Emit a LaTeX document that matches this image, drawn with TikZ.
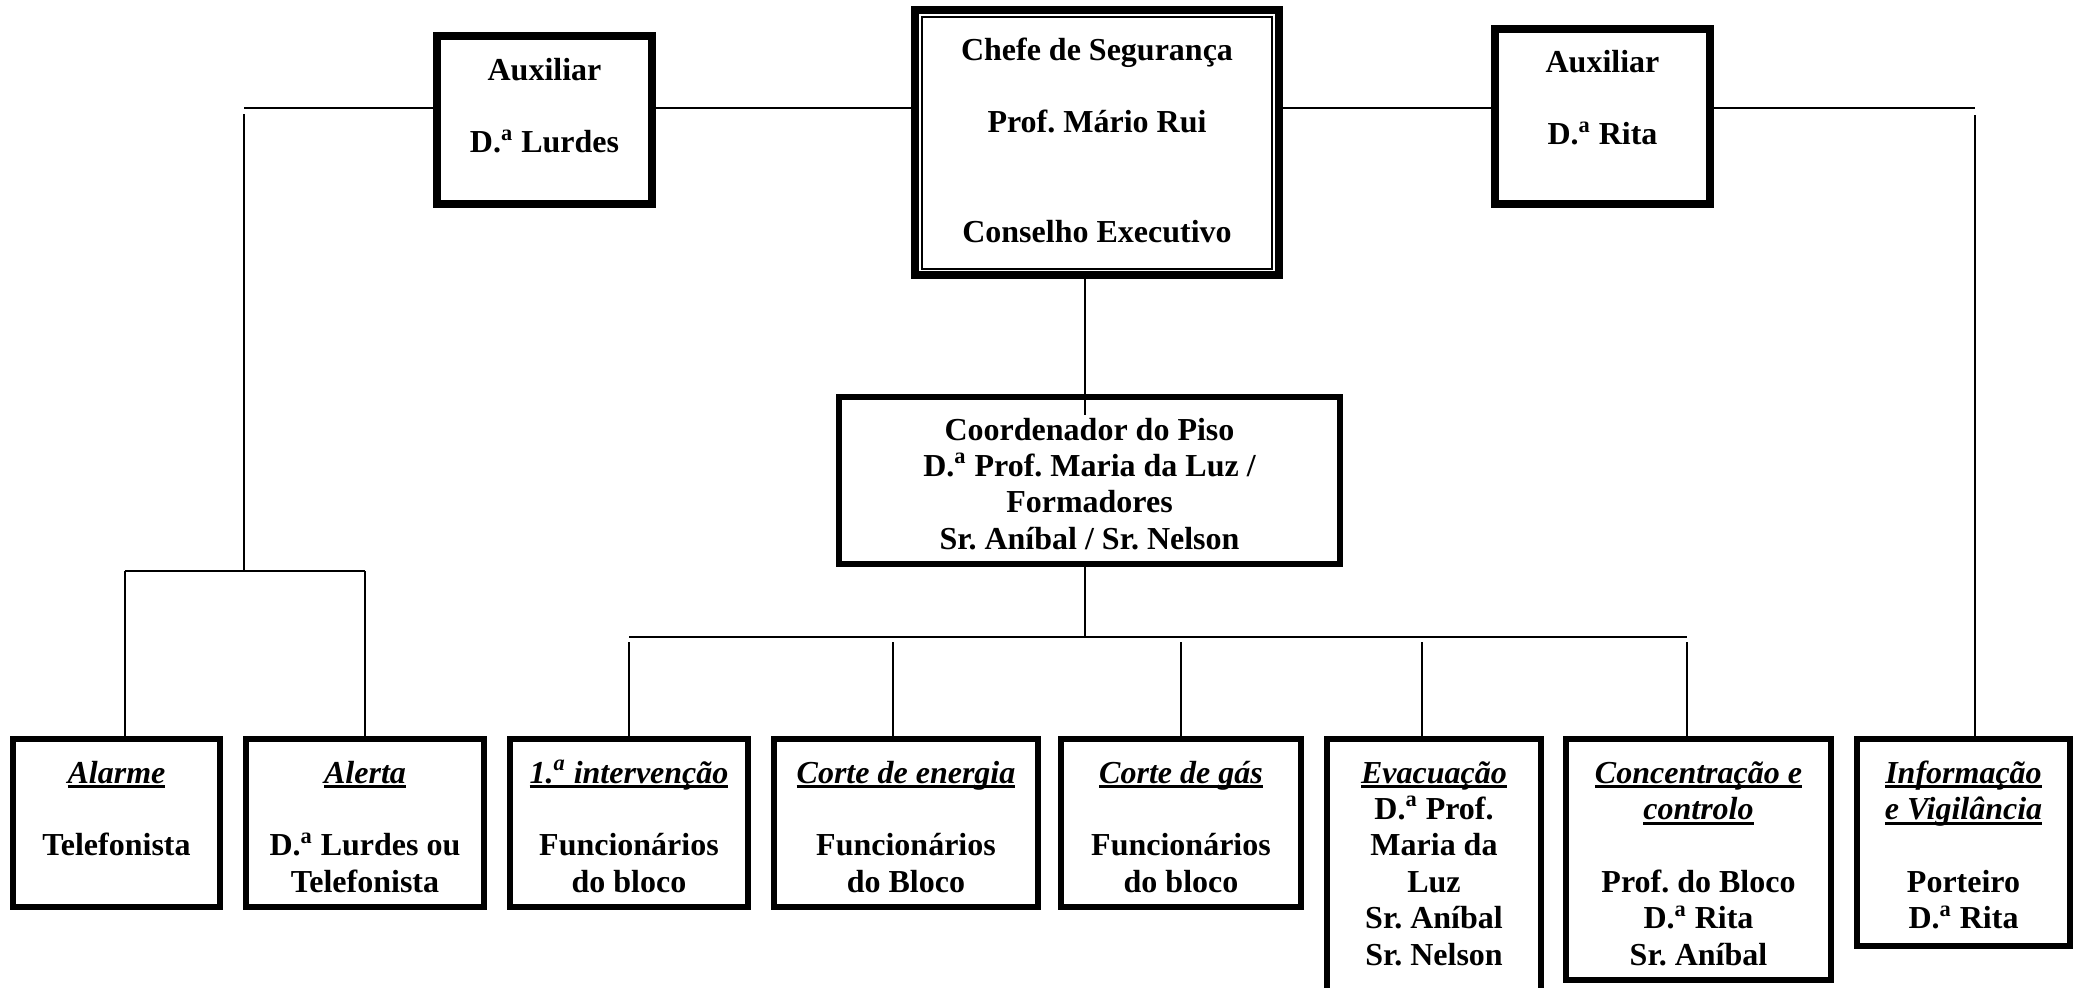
\documentclass[tikz,border=0pt]{standalone}
\usepackage{fontspec}
\setmainfont{Liberation Serif}
\usetikzlibrary{calc}

% underlined section titles
\newsavebox\ttlbox
\newcommand\ttl[1]{\sbox\ttlbox{#1}\rlap{\rule[-2.65pt]{\wd\ttlbox}{1.5pt}}\usebox\ttlbox}
\newcommand\ordA{\textsuperscript{a}}

\tikzset{
  bigbox/.style={draw, line width=4pt, inner sep=0pt},
  smallbox/.style={draw, line width=3pt, inner sep=0pt},
  % text blocks are placed by the baseline of their last line
  txt/.style={font=\fontsize{16pt}{18.2pt}\selectfont\bfseries\frenchspacing, align=center, inner sep=0pt, anchor=base},
  link/.style={line width=0.75pt},
  buslink/.style={line width=1pt}
}

\begin{document}
\begin{tikzpicture}[x=0.5pt,y=-0.5pt]
\useasboundingbox (0,0) rectangle (2078,987);

% top row
\node[bigbox, minimum width=107.5pt, minimum height=84pt] (aux1) at (544.5,120) {};
\node[txt] (aux1t) at (544.5,152.8) {Auxiliar\\[18.2pt]D.\ordA{} Lurdes};

\node[bigbox, minimum width=182pt, minimum height=132.5pt] (chefe) at (1097,142.5) {};
\draw[line width=1pt] ([shift={(11,10.5)}]chefe.north west) rectangle ([shift={(-11,-10.5)}]chefe.south east);
\node[txt] (chefet) at (1097,242) {Chefe de Segurança\\[18.2pt]Prof. Mário Rui\\[36.4pt]Conselho Executivo};

\node[bigbox, minimum width=107.5pt, minimum height=87.5pt] (aux2) at (1602.5,116.5) {};
\node[txt] (aux2t) at (1602.5,144.8) {Auxiliar\\[18.2pt]D.\ordA{} Rita};

% floor coordinator
\node[smallbox, minimum width=250.5pt, minimum height=83.5pt] (coord) at (1089.5,480.5) {};
\node[txt] (coordt) at (1089.5,549.2) {Coordenador do Piso\\D.\ordA{} Prof. Maria da Luz /\\Formadores\\Sr. Aníbal / Sr. Nelson};

% bottom row
\node[smallbox, minimum width=103.5pt, minimum height=84pt] (alarme) at (116.5,823) {};
\node[txt] (alarmet) at (116.5,855.8) {\ttl{\textit{Alarme}}\\[18.2pt]Telefonista};

\node[smallbox, minimum width=119pt, minimum height=84pt] (alerta) at (365,823) {};
\node[txt] (alertat) at (365,892.2) {\ttl{\textit{Alerta}}\\[18.2pt]D.\ordA{} Lurdes ou\\Telefonista};

\node[smallbox, minimum width=119pt, minimum height=84pt] (interv) at (629,823) {};
\node[txt] (intervt) at (629,892.2) {\ttl{\textit{1.\ordA{} intervenção}}\\[18.2pt]Funcionários\\do bloco};

\node[smallbox, minimum width=132pt, minimum height=84pt] (energia) at (906,823) {};
\node[txt] (energiat) at (906,892.2) {\ttl{\textit{Corte de energia}}\\[18.2pt]Funcionários\\do Bloco};

\node[smallbox, minimum width=120pt, minimum height=84pt] (gas) at (1181,823) {};
\node[txt] (gast) at (1181,892.2) {\ttl{\textit{Corte de gás}}\\[18.2pt]Funcionários\\do bloco};

\node[smallbox, minimum width=107pt, minimum height=134pt] (evac) at (1434,873) {};
\node[txt] (evact) at (1434,965) {\ttl{\textit{Evacuação}}\\D.\ordA{} Prof.\\Maria da\\Luz\\Sr. Aníbal\\Sr. Nelson};

\node[smallbox, minimum width=132.5pt, minimum height=120.5pt] (conc) at (1698.5,859.5) {};
\node[txt] (conct) at (1698.5,965) {\ttl{\textit{Concentração e}}\\\ttl{\textit{controlo}}\\[18.2pt]Prof. do Bloco\\D.\ordA{} Rita\\Sr. Aníbal};

\node[smallbox, minimum width=106.5pt, minimum height=103.5pt] (info) at (1963.5,842.5) {};
\node[txt] (infot) at (1963.5,928.6) {\ttl{\textit{Informação}}\\\ttl{\textit{e Vigilância}}\\[18.2pt]Porteiro\\D.\ordA{} Rita};

% connector points
\coordinate (lA) at (244,108);
\coordinate (lB) at (244,114);
\coordinate (lC) at (244,571);
\coordinate (lL) at (125,571);
\coordinate (lR) at (365,571);
\coordinate (rA) at (1975,108);
\coordinate (rB) at (1975,115);
\coordinate (tx) at (1085,300);
\coordinate (bC) at (1085,637);
\coordinate (bL) at (629,637);
\coordinate (bR) at (1687,637);
\coordinate (d1) at (629,642);
\coordinate (d2) at (893,642);
\coordinate (d3) at (1181,642);
\coordinate (d4) at (1422,642);
\coordinate (d5) at (1687,642);

% top line
\draw[link] (lA) -- (aux1.west |- lA);
\draw[link] (aux1.east |- lA) -- (chefe.west |- lA);
\draw[link] (chefe.east |- lA) -- (aux2.west |- lA);
\draw[link] (aux2.east |- lA) -- (rA);

% left branch
\draw[link] (lB) -- (lC);
\draw[link] (lL) -- (lR);
\draw[link] (lL) -- (alarme.north -| lL);
\draw[link] (lR) -- (alerta.north -| lR);

% right branch
\draw[link] (rB) -- (info.north -| rB);

% central branch
\draw[link] (chefe.south -| tx) -- ($(coord.north -| tx)+(0,21)$);
\draw[link] (coord.south -| tx) -- (bC);
\draw[buslink] (bL) -- (bR);
\draw[link] (d1) -- (interv.north -| d1);
\draw[link] (d2) -- (energia.north -| d2);
\draw[link] (d3) -- (gas.north -| d3);
\draw[link] (d4) -- (evac.north -| d4);
\draw[link] (d5) -- (conc.north -| d5);
\end{tikzpicture}
\end{document}
